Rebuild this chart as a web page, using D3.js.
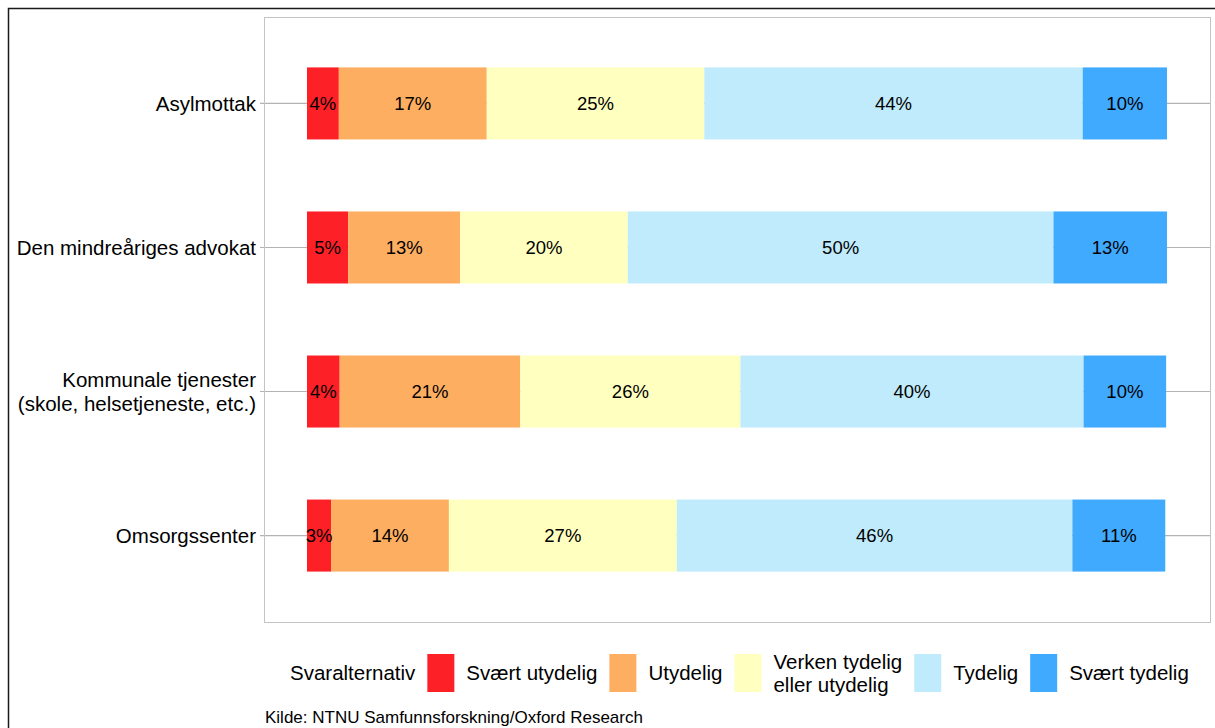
<!DOCTYPE html>
<html>
<head>
<meta charset="utf-8">
<script src="https://cdn.jsdelivr.net/npm/d3@7"></script>
<style>
  body { margin: 0; background: #fff; }
  text { font-family: "Liberation Sans", Arial, sans-serif; fill: #000; }
</style>
</head>
<body>
<div id="cont"></div>
<script>
// data
var categories = ["Asylmottak", "Den mindreåriges advokat", "Kommunale tjenester\n(skole, helsetjeneste, etc.)", "Omsorgssenter"];
var answers = ["Svært utydelig", "Utydelig", "Verken tydelig\neller utydelig", "Tydelig", "Svært tydelig"];
var colors = ["#fe2027", "#fdae61", "#ffffbf", "#bfebfc", "#40aaff"];
// share of respondents (%) per answer, one array per category
var asylmottak = [3.7, 17.2, 25.3, 44.0, 9.8];
var advokat = [4.8, 13.0, 19.5, 49.5, 13.2];
var kommunale = [3.8, 21.0, 25.6, 39.9, 9.6];
var omsorgssenter = [2.8, 13.7, 26.5, 46.0, 10.8];
var series = [asylmottak, advokat, kommunale, omsorgssenter];
var caption = "Kilde: NTNU Samfunnsforskning/Oxford Research";

var W = 1215, H = 728;
var svg = d3.select("#cont").append("svg")
    .attr("width", W)
    .attr("height", H);

// outer frame
svg.append("rect")
    .attr("x", 8.5).attr("y", 8.5)
    .attr("width", W + 20).attr("height", H + 20)
    .attr("fill", "none").attr("stroke", "#1a1a1a").attr("stroke-width", 1.5);

var panel = {left: 264, top: 17, right: 1210, bottom: 622};

// x: 0..100 with 5% expansion like ggplot
var x = d3.scaleLinear()
    .domain([-5, 105])
    .range([panel.left, panel.right]);

// discrete y with 0.6 expansion
var y = d3.scalePoint()
    .domain(categories)
    .range([panel.top, panel.bottom])
    .padding(0.6);
var barH = y.step() * 0.5;

// gridlines + ticks
svg.selectAll(".grid")
    .data(categories)
    .enter().append("line")
    .attr("x1", panel.left - 4).attr("x2", panel.right)
    .attr("y1", function (d) { return y(d); })
    .attr("y2", function (d) { return y(d); })
    .attr("stroke", "#b3b3b3").attr("stroke-width", 1.2);

// panel border
svg.append("rect")
    .attr("x", panel.left + 0.5).attr("y", panel.top + 0.5)
    .attr("width", panel.right - panel.left).attr("height", panel.bottom - panel.top)
    .attr("fill", "none").attr("stroke", "#c4c4c4").attr("stroke-width", 1);

// stacked segments
var rows = categories.map(function (c, i) {
    var acc = 0;
    return series[i].map(function (v, j) {
        var s = {cat: c, k: j, x0: acc, x1: acc + v, v: v};
        acc += v;
        return s;
    });
});

var g = svg.selectAll(".row")
    .data(rows)
    .enter().append("g");

g.selectAll("rect")
    .data(function (d) { return d; })
    .enter().append("rect")
    .attr("x", function (d) { return x(d.x0); })
    .attr("width", function (d) { return x(d.x1) - x(d.x0); })
    .attr("y", function (d) { return y(d.cat) - barH / 2; })
    .attr("height", barH)
    .attr("fill", function (d) { return colors[d.k]; });

g.selectAll("text")
    .data(function (d) { return d; })
    .enter().append("text")
    .attr("x", function (d) { return x((d.x0 + d.x1) / 2); })
    .attr("y", function (d) { return y(d.cat); })
    .attr("dy", "0.36em")
    .attr("text-anchor", "middle")
    .style("font-size", "18.5px")
    .text(function (d) { return Math.round(d.v) + "%"; });

// y labels
svg.selectAll(".ylab")
    .data(categories)
    .enter().append("text")
    .attr("text-anchor", "end")
    .style("font-size", "20.5px")
    .each(function (d) {
        var lines = d.split("\n");
        var cy = y(d);
        var t = d3.select(this);
        lines.forEach(function (l, i) {
            t.append("tspan")
                .attr("x", panel.left - 8)
                .attr("y", cy + (i - (lines.length - 1) / 2) * 24)
                .attr("dy", "0.36em")
                .text(l);
        });
    });

// legend
var ly = 673;
var lg = svg.append("g");
var cx = 290;
var title = lg.append("text")
    .attr("x", cx).attr("y", ly).attr("dy", "0.36em")
    .style("font-size", "20.5px")
    .text("Svaralternativ");
cx += title.node().getComputedTextLength() + 12;

answers.forEach(function (a, i) {
    lg.append("rect")
        .attr("x", cx).attr("y", ly - 19)
        .attr("width", 27).attr("height", 38)
        .attr("fill", colors[i]);
    cx += 27 + 12;
    var lines = a.split("\n");
    var t = lg.append("text").style("font-size", "20.5px");
    lines.forEach(function (l, k) {
        t.append("tspan")
            .attr("x", cx)
            .attr("y", ly + (k - (lines.length - 1) / 2) * 23)
            .attr("dy", "0.36em")
            .text(l);
    });
    var w = d3.max(t.selectAll("tspan").nodes(), function (n) { return n.getComputedTextLength(); });
    cx += w + 12;
});

// caption
svg.append("text")
    .attr("x", 265).attr("y", 717).attr("dy", "0.36em")
    .style("font-size", "17px")
    .text(caption);
</script>
</body>
</html>
